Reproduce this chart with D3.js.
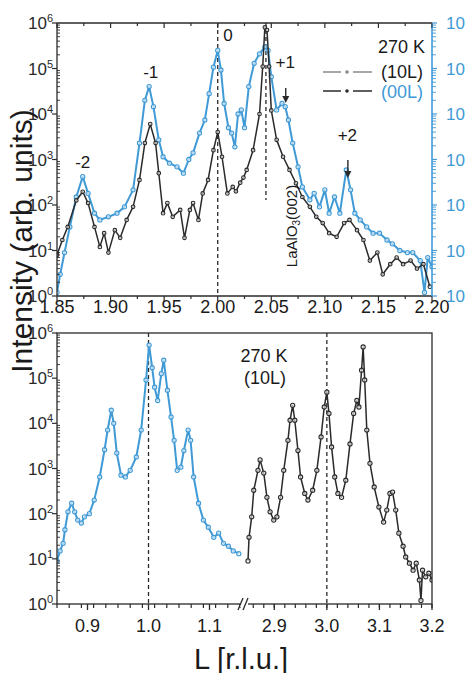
<!DOCTYPE html>
<html>
<head>
<meta charset="utf-8">
<script src="https://cdn.jsdelivr.net/npm/d3@7/dist/d3.min.js"></script>
<style>
  body { margin: 0; background: #fff; }
  svg text { font-family: "Liberation Sans", Arial, sans-serif; fill: #1a1a1a; }
</style>
</head>
<body>
<svg id="fig" width="465" height="673"></svg>
<script>
// ---- data: [L (r.l.u.), intensity (arb. units)] ----
const top10L = [
  [1.850, 8], [1.855, 17], [1.860, 33], [1.868, 126], [1.874, 195], [1.879, 110],
  [1.885, 33], [1.890, 12], [1.894, 24], [1.898, 9], [1.904, 28], [1.909, 19],
  [1.915, 47], [1.921, 91], [1.927, 355], [1.932, 2300], [1.937, 6000], [1.942, 2300],
  [1.945, 500], [1.949, 66], [1.953, 110], [1.958, 55], [1.965, 78], [1.969, 19],
  [1.974, 78], [1.977, 110], [1.982, 47], [1.986, 180], [1.991, 355], [1.996, 1600],
  [2.000, 4000], [2.004, 1150], [2.009, 180], [2.014, 250], [2.017, 200], [2.021, 310],
  [2.024, 400], [2.027, 590], [2.033, 1600], [2.039, 10000], [2.042, 110000],
  [2.044, 800000], [2.046, 700000], [2.048, 110000], [2.050, 12000], [2.055, 2700],
  [2.061, 1150], [2.067, 590], [2.073, 300], [2.079, 150], [2.086, 91], [2.092, 55],
  [2.098, 40], [2.104, 24], [2.111, 20], [2.118, 40], [2.123, 47], [2.130, 28],
  [2.136, 17], [2.142, 6], [2.149, 9], [2.154, 3], [2.161, 5], [2.167, 7],
  [2.173, 5], [2.180, 6], [2.186, 4], [2.192, 5], [2.198, 1.6]
];
const top00L = [
  [1.850, 1.2], [1.853, 3], [1.857, 9], [1.862, 33], [1.868, 150], [1.874, 420],
  [1.879, 180], [1.885, 66], [1.890, 47], [1.898, 55], [1.906, 66], [1.913, 91],
  [1.921, 215], [1.927, 2300], [1.932, 20000], [1.936, 40000], [1.940, 14500],
  [1.945, 2700], [1.949, 1150], [1.955, 830], [1.962, 690], [1.968, 500], [1.973, 1000],
  [1.977, 1400], [1.983, 3800], [1.988, 7400], [1.992, 28000], [1.996, 107000],
  [2.000, 250000], [2.003, 93000], [2.006, 17000], [2.010, 5000], [2.013, 3800],
  [2.016, 1900], [2.019, 10000], [2.022, 12300], [2.025, 5000], [2.029, 40000],
  [2.034, 130000], [2.039, 210000], [2.044, 300000], [2.047, 250000], [2.050, 66000],
  [2.055, 12300], [2.060, 17000], [2.063, 14500], [2.066, 7400], [2.070, 2300],
  [2.075, 690], [2.079, 250], [2.086, 130], [2.090, 180], [2.095, 91], [2.100, 215],
  [2.104, 66], [2.109, 150], [2.114, 66], [2.120, 590], [2.124, 215], [2.128, 66],
  [2.133, 47], [2.139, 33], [2.145, 24], [2.151, 24], [2.158, 17], [2.163, 14],
  [2.170, 10], [2.177, 9], [2.182, 9], [2.189, 6], [2.193, 1.2], [2.196, 7], [2.200, 4.4]
];
const bot00L = [
  [0.850, 9], [0.855, 15], [0.860, 22], [0.863, 44], [0.868, 110], [0.874, 170],
  [0.879, 110], [0.884, 72], [0.890, 62], [0.895, 85], [0.903, 100], [0.911, 200],
  [0.920, 650], [0.928, 2600], [0.933, 7100], [0.939, 19500], [0.943, 10000],
  [0.948, 2200], [0.955, 710], [0.962, 650], [0.970, 910], [0.980, 1800], [0.988, 7100],
  [0.996, 91000], [1.001, 540000], [1.006, 170000], [1.010, 63000], [1.015, 32000],
  [1.021, 126000], [1.025, 250000], [1.031, 54000], [1.037, 13800], [1.042, 4200],
  [1.047, 910], [1.053, 1070], [1.058, 2500], [1.065, 7100], [1.069, 4200], [1.074, 650],
  [1.082, 170], [1.090, 72], [1.098, 50], [1.107, 30], [1.115, 37], [1.123, 22],
  [1.131, 19], [1.139, 15], [1.148, 13]
];
const bot10L = [
  [2.850, 9], [2.852, 30], [2.857, 85], [2.861, 330], [2.869, 910], [2.873, 1550],
  [2.880, 790], [2.886, 230], [2.892, 110], [2.899, 72], [2.905, 85], [2.912, 230],
  [2.918, 910], [2.926, 4200], [2.930, 11700], [2.935, 25000], [2.939, 11700],
  [2.945, 2500], [2.950, 650], [2.958, 280], [2.964, 200], [2.973, 330], [2.981, 910],
  [2.989, 5000], [2.995, 23000], [3.000, 49000], [3.004, 16600], [3.009, 3000],
  [3.015, 650], [3.021, 280], [3.028, 230], [3.036, 550], [3.044, 3500], [3.051, 16600],
  [3.057, 32000], [3.061, 23000], [3.066, 150000], [3.069, 490000], [3.072, 91000],
  [3.076, 7100], [3.082, 1300], [3.090, 390], [3.099, 140], [3.108, 65], [3.114, 120],
  [3.120, 280], [3.125, 300], [3.131, 120], [3.137, 37], [3.145, 19], [3.150, 11],
  [3.157, 8], [3.164, 5.6], [3.170, 8], [3.176, 3.4], [3.179, 1.2], [3.182, 5.6],
  [3.188, 4], [3.194, 4.8], [3.200, 3.4]
];

const topTicks = [1.85, 1.90, 1.95, 2.00, 2.05, 2.10, 2.15, 2.20];
const botTicksL = [0.9, 1.0, 1.1];
const botTicksR = [2.9, 3.0, 3.1, 3.2];
const decades = [1, 10, 100, 1e3, 1e4, 1e5, 1e6];
const peakLabels = [
  { L: 1.874, I: 650, t: "-2" }, { L: 1.9375, I: 6.2e4, t: "-1" },
  { L: 2.0095, I: 4e5, t: "0" }, { L: 2.063, I: 1.05e5, t: "+1" }, { L: 2.121, I: 2.5e3, t: "+2" }
];

const BLUE = "#3f9ad6", DARK = "#2a2a2a";
const svg = d3.select("#fig");

// ---- scales ----
const x = d3.scaleLinear().domain([1.85, 2.20]).range([57, 432]);
const y = d3.scaleLog().domain([1, 1e6]).range([296, 23]);
const xl = d3.scaleLinear().domain([0.85, 1.15]).range([57, 240]);
const xr = d3.scaleLinear().domain([2.85, 3.20]).range([248, 432]);
const yb = d3.scaleLog().domain([1, 1e6]).range([604, 333]);

svg.append("clipPath").attr("id", "cTop").append("rect").attr("x", 57).attr("y", 20).attr("width", 375).attr("height", 277);
svg.append("clipPath").attr("id", "cBot").append("rect").attr("x", 57).attr("y", 333).attr("width", 375).attr("height", 272);

function series(g, data, sx, sy, color, r, w) {
  const line = d3.line().x(d => sx(d[0])).y(d => sy(d[1]));
  g.append("path").datum(data).attr("d", line).attr("fill", "none")
    .attr("stroke", color).attr("stroke-width", w).attr("stroke-linejoin", "round");
  g.selectAll(null).data(data).join("circle")
    .attr("cx", d => sx(d[0])).attr("cy", d => sy(d[1])).attr("r", r)
    .attr("fill", "#fff").attr("fill-opacity", 0.6).attr("stroke", color).attr("stroke-width", 1.1);
}

function logLabels(g, sy, xPos, anchorRight, color) {
  decades.forEach((v, i) => {
    const t = g.append("text").attr("y", sy(v) + 6).style("font-size", "17px").style("fill", color);
    if (anchorRight) t.attr("x", xPos).attr("text-anchor", "end");
    else t.attr("x", xPos);
    t.append("tspan").text("10");
    t.append("tspan").attr("dy", -7).style("font-size", "11px").text(String(i));
  });
}

function yAxisTicks(g, sy, x0, dir, color) {
  // major outward (dir), minors on the other side
  const minors = sy.ticks().filter(v => !decades.includes(v));
  g.selectAll(null).data(decades).join("line")
    .attr("x1", x0).attr("x2", x0 + dir * 5).attr("y1", d => sy(d)).attr("y2", d => sy(d))
    .attr("stroke", color).attr("stroke-width", 1.2);
  g.selectAll(null).data(minors).join("line")
    .attr("x1", x0).attr("x2", x0 + (dir < 0 ? 3 : 4)).attr("y1", d => sy(d)).attr("y2", d => sy(d))
    .attr("stroke", color).attr("stroke-width", 0.9);
}

// ================= top panel =================
const gt = svg.append("g");
const plotT = gt.append("g").attr("clip-path", "url(#cTop)");

// dashed guides
plotT.append("line").attr("x1", x(2.0)).attr("x2", x(2.0)).attr("y1", 23).attr("y2", 296)
  .attr("stroke", DARK).attr("stroke-width", 1.3).attr("stroke-dasharray", "4 3");
plotT.append("line").attr("x1", x(2.045)).attr("x2", x(2.045)).attr("y1", 23).attr("y2", 200)
  .attr("stroke", DARK).attr("stroke-width", 1.3).attr("stroke-dasharray", "4 3");

series(plotT, top00L, x, y, BLUE, 2.1, 2);
series(plotT, top10L, x, y, DARK, 1.8, 1.5);

// frame
gt.append("line").attr("x1", 57).attr("x2", 432).attr("y1", 23).attr("y2", 23).attr("stroke", DARK).attr("stroke-width", 1.3);
gt.append("line").attr("x1", 57).attr("x2", 432).attr("y1", 296).attr("y2", 296).attr("stroke", DARK).attr("stroke-width", 1.3);
gt.append("line").attr("x1", 57).attr("x2", 57).attr("y1", 23).attr("y2", 296).attr("stroke", DARK).attr("stroke-width", 1.3);
gt.append("line").attr("x1", 432).attr("x2", 432).attr("y1", 23).attr("y2", 296).attr("stroke", BLUE).attr("stroke-width", 1.6);

// x ticks (bottom outward, top inward)
const topMinor = d3.range(0, 15).map(i => 1.85 + i * 0.025);
gt.selectAll(null).data(topMinor).join("line")
  .attr("x1", d => x(d)).attr("x2", d => x(d)).attr("y1", 296)
  .attr("y2", (d, i) => 296 + (i % 2 ? 3 : 5)).attr("stroke", DARK).attr("stroke-width", 1.2);
gt.selectAll(null).data(topMinor).join("line")
  .attr("x1", d => x(d)).attr("x2", d => x(d)).attr("y1", 23)
  .attr("y2", (d, i) => 23 + (i % 2 ? 3 : 5)).attr("stroke", DARK).attr("stroke-width", 1.2);
gt.selectAll(null).data(topTicks).join("text")
  .attr("x", d => x(d)).attr("y", 313).attr("text-anchor", "middle").style("font-size", "18px")
  .text(d => d.toFixed(2));

yAxisTicks(gt, y, 57, -1, DARK);
yAxisTicks(gt, y, 432, 1, BLUE);
logLabels(gt, y, 53, true, DARK);
logLabels(gt, y, 446, false, BLUE);

// peak labels
gt.selectAll(null).data(peakLabels).join("text")
  .attr("x", d => x(d.L)).attr("y", d => y(d.I)).attr("text-anchor", "middle")
  .style("font-size", "17px").text(d => d.t);
// arrows for +1 and +2
[[2.0635, 88, 103], [2.1215, 160, 178]].forEach(a => {
  gt.append("line").attr("x1", x(a[0])).attr("x2", x(a[0])).attr("y1", a[1]).attr("y2", a[2] - 5)
    .attr("stroke", DARK).attr("stroke-width", 1.4);
  gt.append("path").attr("d", `M${x(a[0]) - 3.5},${a[2] - 7} L${x(a[0]) + 3.5},${a[2] - 7} L${x(a[0])},${a[2]} Z`)
    .attr("fill", DARK);
});
// substrate label
const sub = gt.append("text").attr("transform", "translate(297,226) rotate(-90)")
  .attr("text-anchor", "middle").style("font-size", "15px");
sub.append("tspan").text("LaAlO");
sub.append("tspan").attr("dy", 3).style("font-size", "10px").text("3");
sub.append("tspan").attr("dy", -3).text("(002)");

// legend
gt.append("text").attr("x", 425).attr("y", 53).attr("text-anchor", "end").style("font-size", "18px").text("270 K");
gt.append("text").attr("x", 423).attr("y", 78).attr("text-anchor", "end").style("font-size", "18px").text("(10L)");
gt.append("text").attr("x", 423).attr("y", 98).attr("text-anchor", "end").style("font-size", "18px")
  .style("fill", BLUE).text("(00L)");
[[72, "#8a8a8a"], [91, DARK]].forEach(s => {
  gt.append("line").attr("x1", 323).attr("x2", 341).attr("y1", s[0]).attr("y2", s[0]).attr("stroke", s[1]).attr("stroke-width", 1.5);
  gt.append("line").attr("x1", 353).attr("x2", 372).attr("y1", s[0]).attr("y2", s[0]).attr("stroke", s[1]).attr("stroke-width", 1.5);
  gt.append("circle").attr("cx", 347).attr("cy", s[0]).attr("r", 1.8).attr("fill", s[1]);
});

// ================= bottom panel =================
const gb = svg.append("g");
const plotB = gb.append("g").attr("clip-path", "url(#cBot)");
[xl(1.0), xr(3.0)].forEach(px => {
  plotB.append("line").attr("x1", px).attr("x2", px).attr("y1", 333).attr("y2", 604)
    .attr("stroke", DARK).attr("stroke-width", 1.3).attr("stroke-dasharray", "4 3");
});
series(plotB, bot00L, xl, yb, BLUE, 2.1, 2);
series(plotB, bot10L, xr, yb, DARK, 2.1, 1.5);

gb.append("rect").attr("x", 57).attr("y", 333).attr("width", 375).attr("height", 271)
  .attr("fill", "none").attr("stroke", DARK).attr("stroke-width", 1.3);

const minL = d3.range(0, 16).map(i => 0.85 + i * 0.02).filter(v => v <= 1.15);
const minR = d3.range(0, 18).map(i => 2.86 + i * 0.02).filter(v => v <= 3.2001);
gb.selectAll(null).data(minL.map(v => xl(v)).concat(minR.map(v => xr(v)))).join("line")
  .attr("x1", d => d).attr("x2", d => d).attr("y1", 604).attr("y2", 608)
  .attr("stroke", DARK).attr("stroke-width", 1.2);
gb.selectAll(null).data(botTicksL.map(v => xl(v)).concat(botTicksR.map(v => xr(v)))).join("line")
  .attr("x1", d => d).attr("x2", d => d).attr("y1", 604).attr("y2", 610)
  .attr("stroke", DARK).attr("stroke-width", 1.3);
gb.selectAll(null).data(botTicksL).join("text")
  .attr("x", d => xl(d)).attr("y", 632).attr("text-anchor", "middle").style("font-size", "18px").text(d => d.toFixed(1));
gb.selectAll(null).data(botTicksR).join("text")
  .attr("x", d => xr(d)).attr("y", 632).attr("text-anchor", "middle").style("font-size", "18px").text(d => d.toFixed(1));

// axis break
gb.append("rect").attr("x", 240).attr("y", 601).attr("width", 8).attr("height", 6).attr("fill", "#fff");
[240, 245].forEach(px => {
  gb.append("line").attr("x1", px - 2).attr("x2", px + 3).attr("y1", 610).attr("y2", 598)
    .attr("stroke", DARK).attr("stroke-width", 1.3);
});

yAxisTicks(gb, yb, 57, -1, DARK);
logLabels(gb, yb, 53, true, DARK);

gb.append("text").attr("x", 264).attr("y", 362).attr("text-anchor", "middle").style("font-size", "18px").text("270 K");
gb.append("text").attr("x", 265).attr("y", 384).attr("text-anchor", "middle").style("font-size", "18px").text("(10L)");

// axis titles
svg.append("text").attr("transform", "translate(32,241) rotate(-90)").attr("text-anchor", "middle")
  .style("font-size", "30px").text("Intensity (arb. units)");
svg.append("text").attr("x", 241).attr("y", 669).attr("text-anchor", "middle")
  .style("font-size", "29px").text("L [r.l.u.]");
</script>
</body>
</html>
